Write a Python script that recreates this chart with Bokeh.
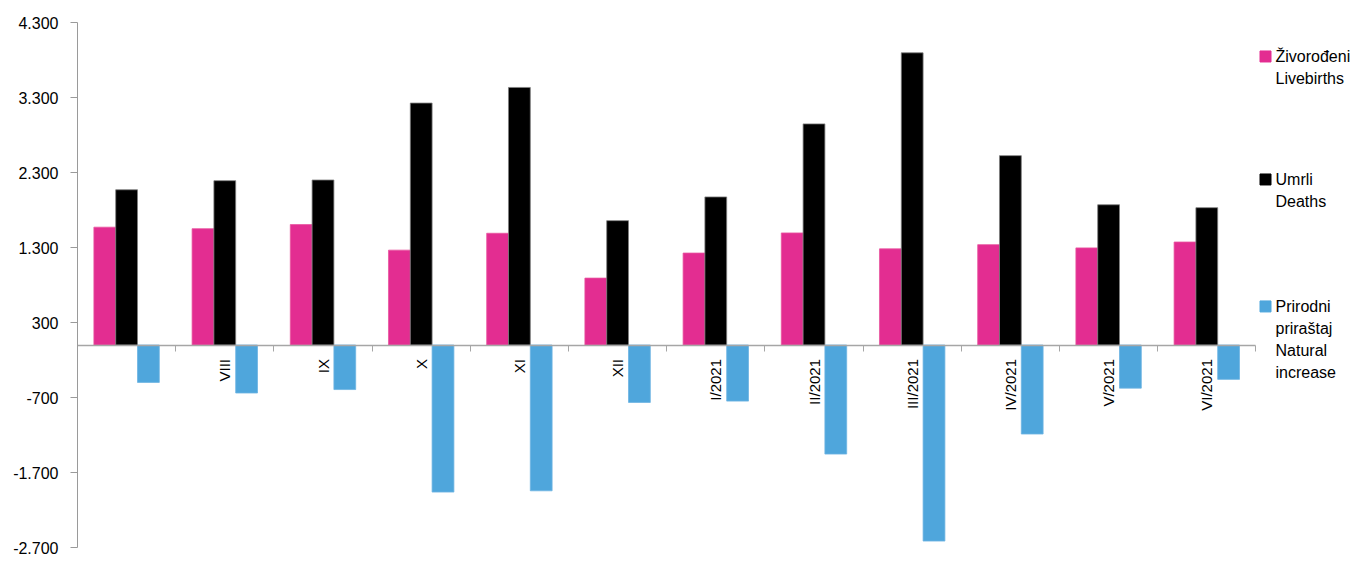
from bokeh.plotting import figure
from bokeh.models import ColumnDataSource, Range1d, FixedTicker, LinearAxis
from bokeh.core.properties import value
from bokeh.transform import dodge
from bokeh.embed import file_html
from bokeh.resources import INLINE

# ---- data ----
categories = ["", "VIII", "IX", "X", "XI", "XII", "I/2021", "II/2021",
              "III/2021", "IV/2021", "V/2021", "VI/2021"]
livebirths = [1571, 1551, 1606, 1265, 1490, 892, 1226, 1494, 1282, 1338, 1295, 1373]
deaths = [2070, 2191, 2200, 3226, 3434, 1658, 1974, 2948, 3896, 2525, 1870, 1831]
natural_increase = [-499, -640, -594, -1961, -1944, -766, -748, -1454, -2614, -1187, -575, -458]

y_ticks = [-2700, -1700, -700, 300, 1300, 2300, 3300, 4300]
y_tick_labels = ["-2.700", "-1.700", "-700", "300", "1.300", "2.300", "3.300", "4.300"]

series_names = ["Živorođeni\nLivebirths", "Umrli\nDeaths", "Prirodni\npriraštaj\nNatural\nincrease"]
colors = ["#E32D91", "#000000", "#4FA6DC"]
outlines = ["#E9559F", "#7F7F7F", "#6DB4E2"]

FONT = "Liberation Sans"
n = len(categories)
xs = list(range(1, n + 1))

src = ColumnDataSource(dict(x=xs, live=livebirths, deaths=deaths, nat=natural_increase))

W, H = 1351, 556
LEFT, RIGHT, TOP, BOTTOM = 77, 0, 22, 9
cat_px = 98.2
x_end = 0.5 + (W - LEFT - RIGHT) / cat_px

p = figure(width=W, height=H, output_backend="svg", toolbar_location=None,
           x_range=Range1d(0.5, x_end), y_range=Range1d(-2700, 4300),
           min_border_left=LEFT, min_border_right=RIGHT,
           min_border_top=TOP, min_border_bottom=BOTTOM,
           x_axis_location=None, y_axis_location=None)
p.outline_line_color = None
p.xgrid.visible = False
p.ygrid.visible = False
p.background_fill_color = "white"
p.border_fill_color = "white"

bw = 0.222
p.vbar(x=dodge("x", -bw, range=p.x_range), top="live", bottom=0, width=bw, source=src,
       fill_color=colors[0], line_color=outlines[0], line_width=0.8)
p.vbar(x=dodge("x", 0, range=p.x_range), top="deaths", bottom=0, width=bw, source=src,
       fill_color=colors[1], line_color=outlines[1], line_width=0.8)
p.vbar(x=dodge("x", bw, range=p.x_range), top="nat", bottom=0, width=bw, source=src,
       fill_color=colors[2], line_color=outlines[2], line_width=0.8)

# y axis
yaxis = LinearAxis(ticker=FixedTicker(ticks=y_ticks, minor_ticks=[]))
yaxis.major_label_overrides = {t: lab for t, lab in zip(y_ticks, y_tick_labels)}
yaxis.axis_line_color = "#9A9A9A"
yaxis.major_tick_line_color = "#9A9A9A"
yaxis.major_tick_out = 7
yaxis.major_tick_in = 0
yaxis.minor_tick_out = 0
yaxis.minor_tick_in = 0
yaxis.major_label_standoff = 12
yaxis.major_label_text_font = FONT
yaxis.major_label_text_font_size = "16px"
yaxis.major_label_text_color = "#000000"
p.add_layout(yaxis, "left")

# x axis drawn at y = 0
xaxis = LinearAxis(ticker=FixedTicker(ticks=xs, minor_ticks=[i + 0.5 for i in xs]),
                   fixed_location=0, bounds=(0.5, n + 0.5))
xaxis.major_label_overrides = {x: c for x, c in zip(xs, categories)}
xaxis.major_label_orientation = 3.14159265 / 2
xaxis.axis_line_color = "#A6A6A6"
xaxis.axis_line_width = 1.5
xaxis.major_tick_out = 0
xaxis.major_tick_in = 0
xaxis.minor_tick_out = 6
xaxis.minor_tick_in = 0
xaxis.minor_tick_line_color = "#A6A6A6"
xaxis.major_label_standoff = 8
xaxis.major_label_text_font = FONT
xaxis.major_label_text_font_size = "15px"
xaxis.major_label_text_color = "#000000"
p.add_layout(xaxis, "below")

# legend (drawn manually to reproduce the multi-line layout)
leg_y = [3847, 2207, 514]
sq_x = 0.5 + (1265 - LEFT) / cat_px
tx_x = 0.5 + (1275 - LEFT) / cat_px
line_h = 22
lx, ly, lt, lo = [], [], [], []
for name, yv in zip(series_names, leg_y):
    for j, line in enumerate(name.split("\n")):
        lx.append(tx_x)
        ly.append(yv)
        lt.append(line)
        lo.append(j * line_h)
p.scatter(x=[sq_x] * 3, y=leg_y, marker="square", size=11,
          fill_color=colors, line_color=colors)
p.text(x=lx, y=ly, text=lt, y_offset=lo, text_font=value(FONT), text_font_size="16px",
       text_color="#000000", text_baseline="middle", text_align="left")

open("out.html", "w").write(file_html(p, INLINE))
